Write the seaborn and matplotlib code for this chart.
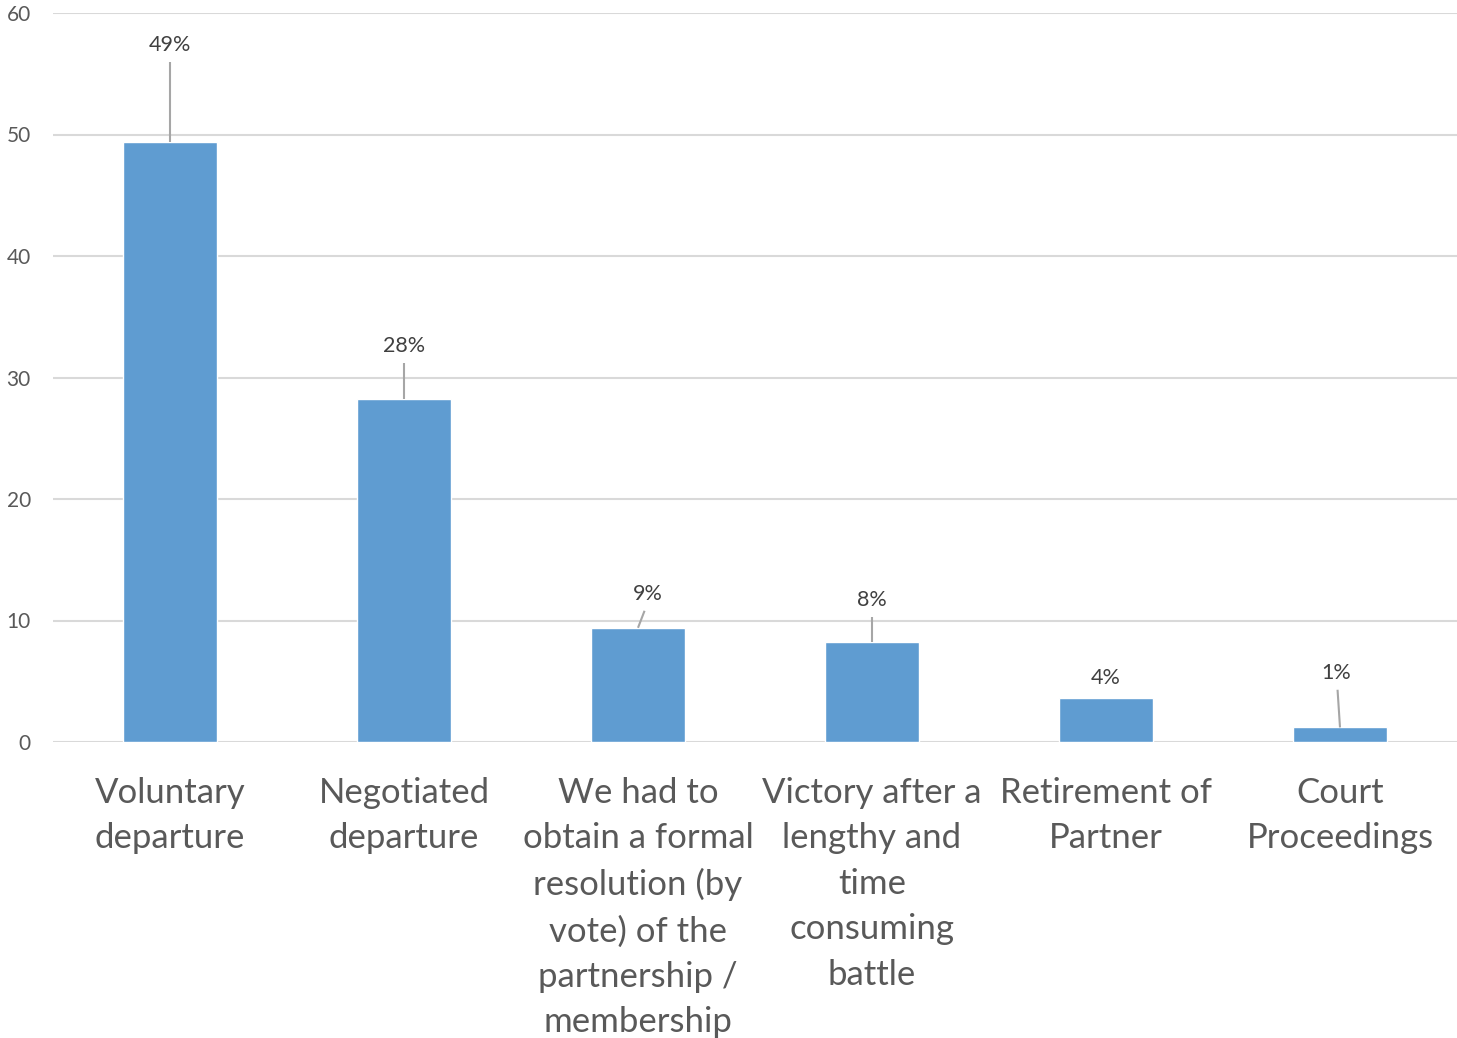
import matplotlib
matplotlib.use("Agg")
import matplotlib.pyplot as plt
import seaborn as sns
import pandas as pd

# Outcome categories (wrapped as they appear under the axis)
categories = [
    "Voluntary\ndeparture",
    "Negotiated\ndeparture",
    "We had to\nobtain a formal\nresolution (by\nvote) of the\npartnership /\nmembership",
    "Victory after a\nlengthy and\ntime\nconsuming\nbattle",
    "Retirement of\nPartner",
    "Court\nProceedings",
]
# Share of respondents (%)
values = [49.4, 28.2, 9.4, 8.2, 3.6, 1.2]

# Data label placement: (x shift in category units, label centre height above bar top)
label_dx = [0.0, 0.0, 0.04, 0.0, 0.0, -0.015]
label_dy = [8.0, 4.4, 2.8, 3.5, 1.7, 4.5]
show_leader = [True, True, True, True, False, True]

df = pd.DataFrame({"category": categories, "value": values})

sns.set_theme(style="white")
plt.rcParams["font.family"] = ["Lato", "DejaVu Sans"]

fig = plt.figure(figsize=(14.57, 10.38), dpi=100)
ax = fig.add_axes([53 / 1457, 1 - 742 / 1038, 1 - 53 / 1457, (742 - 13) / 1038])

sns.barplot(data=df, x="category", y="value", color="#5F9CD1", saturation=1,
            width=0.4, ax=ax, zorder=3)

ax.set_ylim(0, 60)
ax.set_xlim(-0.5, len(categories) - 0.5)
ax.set_yticks(range(0, 61, 10))
ax.yaxis.grid(True, color="#D9D9D9", linewidth=1.5, zorder=0)
ax.set_axisbelow(True)
for s in ax.spines.values():
    s.set_visible(False)
ax.set_xlabel("")
ax.set_ylabel("")
ax.tick_params(axis="y", length=0, pad=16, labelsize=15, labelcolor="#595959")
ax.tick_params(axis="x", length=0, pad=25, labelsize=25, labelcolor="#595959")
for lbl in ax.get_xticklabels():
    lbl.set_linespacing(1.52)
    lbl.set_verticalalignment("top")

# Data labels with leader lines
for i, v in enumerate(values):
    lx = i + label_dx[i]
    ly = v + label_dy[i]
    ax.text(lx, ly, f"{round(v)}%", ha="center", va="center",
            fontsize=15.5, color="#404040", zorder=5)
    if show_leader[i]:
        ax.plot([i, lx - label_dx[i] * 0.3], [v, ly - 1.4], color="#A6A6A6",
                linewidth=1.5, zorder=4, solid_capstyle="butt")

fig.savefig("out.png", dpi=100)
